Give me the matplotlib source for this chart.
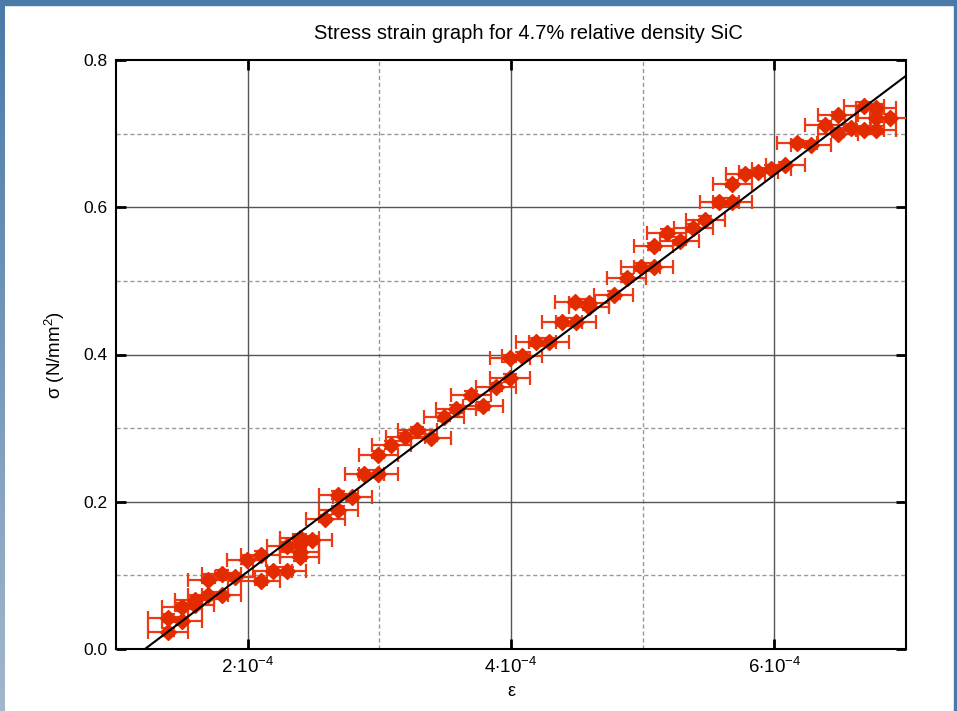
import numpy as np
import matplotlib
matplotlib.use("Agg")
import matplotlib.pyplot as plt
from matplotlib.patches import Rectangle
from matplotlib.colors import LinearSegmentedColormap

plt.rcParams['font.family'] = ['Liberation Sans', 'DejaVu Sans']
plt.rcParams['mathtext.fontset'] = 'custom'
plt.rcParams['mathtext.rm'] = 'Liberation Sans'
plt.rcParams['mathtext.it'] = 'Liberation Sans'

# strain in units of 1e-4
strain_e4 = [1.394, 1.394, 1.500, 1.500, 1.598, 1.598, 1.697, 1.697, 1.803, 1.803,
             1.902, 1.992, 2.098, 2.098, 2.189, 2.295, 2.295, 2.394, 2.394, 2.394,
             2.394, 2.492, 2.591, 2.689, 2.689, 2.795, 2.886, 2.992, 2.992, 3.091,
             3.197, 3.288, 3.394, 3.492, 3.583, 3.697, 3.788, 3.886, 3.992, 3.992,
             4.083, 4.189, 4.288, 4.386, 4.492, 4.485, 4.591, 4.591, 4.780, 4.879,
             4.985, 5.083, 5.083, 5.182, 5.280, 5.386, 5.477, 5.583, 5.682, 5.682,
             5.780, 5.879, 5.977, 6.083, 6.174, 6.280, 6.386, 6.485, 6.485, 6.583,
             6.682, 6.682, 6.773, 6.773, 6.773, 6.879]
stress = [0.023, 0.042, 0.038, 0.057, 0.067, 0.060, 0.073, 0.094, 0.073, 0.102,
          0.098, 0.121, 0.092, 0.128, 0.106, 0.106, 0.140, 0.151, 0.142, 0.132,
          0.125, 0.148, 0.177, 0.189, 0.209, 0.206, 0.238, 0.238, 0.264, 0.277,
          0.288, 0.297, 0.287, 0.315, 0.326, 0.345, 0.330, 0.356, 0.368, 0.395,
          0.398, 0.417, 0.417, 0.444, 0.444, 0.471, 0.470, 0.465, 0.481, 0.504,
          0.519, 0.519, 0.547, 0.565, 0.554, 0.572, 0.583, 0.607, 0.607, 0.632,
          0.645, 0.648, 0.652, 0.657, 0.687, 0.685, 0.712, 0.725, 0.700, 0.708,
          0.738, 0.705, 0.735, 0.721, 0.705, 0.721]
strain_err_e4 = 0.15
stress_err = 0.005

fit_slope = 1347.0       # N/mm^2 per unit strain
fit_intercept_e4 = 1.22  # strain (1e-4) at zero stress

x_ticks = [2e-4, 4e-4, 6e-4]
x_tick_labels = [r'$2{\cdot}10^{-4}$', r'$4{\cdot}10^{-4}$', r'$6{\cdot}10^{-4}$']
y_ticks = [0.0, 0.2, 0.4, 0.6, 0.8]
title = "Stress strain graph for 4.7% relative density SiC"

x = np.array(strain_e4) * 1e-4
y = np.array(stress)

W, H = 957, 711
fig = plt.figure(figsize=(W / 100, H / 100), dpi=100)
fig.patch.set_facecolor('white')

# blue screenshot frame
fig.add_artist(Rectangle((0, 1 - 5 / H), 1, 5 / H, transform=fig.transFigure,
                         color='#4a7aa8', zorder=0))
gax = fig.add_axes([0, 0, 5 / W, 1 - 5 / H])
grad = np.linspace(0, 1, 256).reshape(-1, 1)
cm = LinearSegmentedColormap.from_list('b', ['#a3b7cc', '#4a7aa8'])
gax.imshow(grad, aspect='auto', cmap=cm, origin='lower', extent=[0, 1, 0, 1])
gax.axis('off')
fig.add_artist(Rectangle((1 - 3 / W, 0), 3 / W, 1, transform=fig.transFigure,
                         color='#4a7aa8', zorder=0))

ax = fig.add_axes([116 / W, 62 / H, 790 / W, 589 / H])
ax.set_xlim(1e-4, 7e-4)
ax.set_ylim(0, 0.8)

# grid lines
for gx in [2e-4, 4e-4, 6e-4]:
    ax.axvline(gx, color='#555555', lw=1.0, zorder=1)
for gx in [3e-4, 5e-4]:
    ax.axvline(gx, color='#999999', lw=1.0, ls=(0, (3, 2)), zorder=1)
for gy in [0.2, 0.4, 0.6]:
    ax.axhline(gy, color='#555555', lw=1.0, zorder=1)
for gy in [0.1, 0.3, 0.5, 0.7]:
    ax.axhline(gy, color='#999999', lw=1.0, ls=(0, (3, 2)), zorder=1)

red = '#e32b00'
ax.errorbar(x, y, xerr=strain_err_e4 * 1e-4, yerr=stress_err, fmt='D', color=red,
            mec=red, ecolor='#ee3a14', elinewidth=1.6, capsize=5, capthick=1.6,
            markersize=8.5, zorder=3)

xl = np.array([fit_intercept_e4 * 1e-4, 7e-4])
ax.plot(xl, fit_slope * (xl - fit_intercept_e4 * 1e-4), color='black', lw=1.5, zorder=4)

ax.set_xticks(x_ticks)
ax.set_xticklabels(x_tick_labels, fontsize=13.5)
ax.set_yticks(y_ticks)
ax.set_yticklabels([f'{v:.1f}' for v in y_ticks], fontsize=12.5)
ax.tick_params(direction='in', length=7, width=2, color='black', pad=6)
ax.tick_params(axis='y', right=True)
ax.tick_params(axis='x', top=True)
for s in ax.spines.values():
    s.set_linewidth(1.5)

ax.set_title(title, fontsize=14.5, pad=15, x=(528 - 116) / 790)
ax.set_xlabel('ε', fontsize=13, labelpad=4)
ax.set_ylabel(r'σ (N/mm$^{2}$)', fontsize=13.5, labelpad=12)

fig.savefig('out.png', dpi=100)
